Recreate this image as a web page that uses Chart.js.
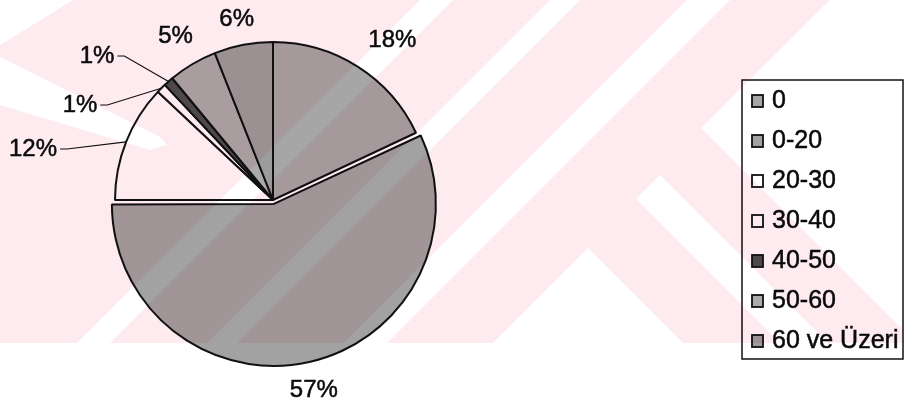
<!DOCTYPE html>
<html>
<head>
<meta charset="utf-8">
<script src="https://cdn.jsdelivr.net/npm/chart.js@4.4.1/dist/chart.umd.min.js"></script>
<style>
  html, body { margin: 0; padding: 0; background: #fff; }
  #wrap { width: 904px; height: 408px; position: relative; }
</style>
</head>
<body>
<div id="wrap"><canvas id="yas"></canvas></div>
<script>
const ageGroups = ['0', '0-20', '20-30', '30-40', '40-50', '50-60', '60 ve Üzeri'];
const shares = [18, 57, 12, 1, 1, 5, 6];

const sliceFill = ['#a6a6a6', '#a2a2a2', '#ffffff', '#ffffff', '#4e4e4e', '#ababab', '#9c9c9c'];
const sliceOffset = [0, 16, 0, 0, 0, 0, 0];
// thin slices get their label off to the left with a leader line (px from pie centre)
const leaderSpots = { 2: [-240, -51], 3: [-193, -95], 4: [-176, -144] };
// small hand tweaks for the outside labels
const labelNudge = [[9, -2], [-5, 4], [0, 0], [0, 0], [0, 0], [4, -3], [1, 3]];

const FONT = '"Liberation Sans", Arial, Helvetica, sans-serif';

// light pink background logo: pink field with white stripes cut out of it
const whiteGaps = [
  [[0, 0], [73, 0], [0, 45]],
  [[0, 57], [160, 137], [167, 145], [150, 150], [0, 105]],
  [[420, 0], [453, 0], [110, 343], [77, 343]],
  [[550, 0], [580, 0], [237, 343], [207, 343]],
  [[687, 0], [730, 0], [387, 343], [344, 343]],
  [[701, 128], [830, 0], [904, 0], [904, 331]],
  [[660, 175], [636, 199], [780, 343], [828, 343]],
  [[588, 248], [683, 343], [493, 343]]
];

// text a touch heavier than the plain face
function inkText(c, text, x, y) {
  c.save();
  c.lineWidth = 0.5;
  c.strokeStyle = c.fillStyle;
  c.strokeText(text, x, y);
  c.restore();
  c.fillText(text, x, y);
}

const paperBg = {
  id: 'paperBg',
  beforeDraw(chart) {
    const c = chart.ctx;
    c.save();
    c.fillStyle = '#fff';
    c.fillRect(0, 0, chart.width, chart.height);
    c.restore();
  }
};

const pctLabels = {
  id: 'pctLabels',
  afterDatasetsDraw(chart) {
    const c = chart.ctx;
    const arcs = chart.getDatasetMeta(0).data;
    const vals = chart.data.datasets[0].data;
    const total = vals.reduce((a, b) => a + b, 0);
    c.save();
    c.font = '24px ' + FONT;
    c.fillStyle = '#0a0a0a';
    c.strokeStyle = '#111';
    c.lineWidth = 1.2;
    c.textBaseline = 'middle';
    c.textAlign = 'center';
    arcs.forEach((arc, i) => {
      const {x, y, startAngle, endAngle, outerRadius} =
        arc.getProps(['x', 'y', 'startAngle', 'endAngle', 'outerRadius'], true);
      const mid = (startAngle + endAngle) / 2;
      const dx = Math.cos(mid), dy = Math.sin(mid);
      const text = Math.round(vals[i] / total * 100) + '%';
      const w = c.measureText(text).width, h = 10;
      if (leaderSpots[i]) {
        const tx = x + leaderSpots[i][0], ty = y + leaderSpots[i][1];
        inkText(c, text, tx, ty);
        const sx = tx + w / 2 + 3;
        c.beginPath();
        c.moveTo(sx, ty);
        c.lineTo(sx + 7, ty);
        c.lineTo(x + dx * outerRadius, y + dy * outerRadius);
        c.stroke();
      } else {
        // exploded slices are drawn shifted by a quarter of their offset
        const shift = (arc.options.offset || 0) / 4;
        const r = outerRadius + 24 + shift;
        const [nx, ny] = labelNudge[i];
        inkText(c, text, x + dx * r + dx * w / 2 + nx, y + dy * r + dy * h / 2 + ny);
      }
    });
    c.restore();
  }
};

const boxLegend = {
  id: 'boxLegend',
  afterDraw(chart) {
    const c = chart.ctx;
    const ds = chart.data.datasets[0];
    c.save();
    c.strokeStyle = '#111';
    c.lineWidth = 1.5;
    c.strokeRect(742, 80, 161, 279);
    c.font = '25px ' + FONT;
    c.textBaseline = 'middle';
    chart.data.labels.forEach((lab, i) => {
      const cy = 101 + i * 40;
      c.fillStyle = ds.backgroundColor[i];
      c.fillRect(752, cy - 6, 11, 12);
      c.lineWidth = 1.8;
      c.strokeRect(752, cy - 6, 11, 12);
      c.fillStyle = '#0a0a0a';
      inkText(c, lab, 772, cy);
    });
    c.restore();
  }
};

const watermark = {
  id: 'watermark',
  afterDraw(chart) {
    const off = document.createElement('canvas');
    off.width = chart.width;
    off.height = chart.height;
    const o = off.getContext('2d');
    o.fillStyle = '#fdebef';
    o.fillRect(0, 0, chart.width, 343);
    o.globalCompositeOperation = 'destination-out';
    whiteGaps.forEach(poly => {
      o.beginPath();
      poly.forEach(([px, py], k) => k ? o.lineTo(px, py) : o.moveTo(px, py));
      o.closePath();
      o.fill();
    });
    const c = chart.ctx;
    c.save();
    c.globalCompositeOperation = 'multiply';
    c.drawImage(off, 0, 0, chart.width, chart.height);
    c.restore();
  }
};

new Chart(document.getElementById('yas'), {
  type: 'pie',
  data: {
    labels: ageGroups,
    datasets: [{
      data: shares,
      backgroundColor: sliceFill,
      borderColor: '#111',
      borderWidth: 2,
      offset: sliceOffset,
      hoverOffset: 0
    }]
  },
  options: {
    responsive: true,
    maintainAspectRatio: false,
    animation: false,
    events: [],
    radius: 158,
    layout: { padding: { left: 20, right: 378, top: 10, bottom: 18 } },
    plugins: {
      legend: { display: false },
      tooltip: { enabled: false }
    }
  },
  plugins: [paperBg, pctLabels, boxLegend, watermark]
});
</script>
</body>
</html>
